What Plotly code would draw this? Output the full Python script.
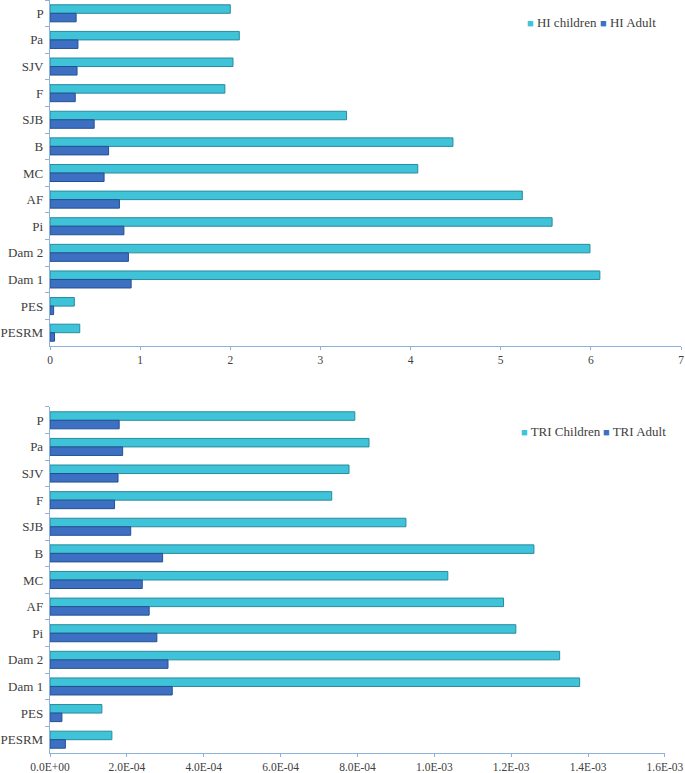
import plotly.graph_objects as go
from plotly.subplots import make_subplots

# sites, top to bottom
sites = ['P', 'Pa', 'SJV', 'F', 'SJB', 'B', 'MC', 'AF', 'Pi', 'Dam 2', 'Dam 1', 'PES', 'PESRM']

# hazard index
hi_children = [2.00, 2.10, 2.03, 1.94, 3.29, 4.47, 4.08, 5.24, 5.57, 5.99, 6.10, 0.27, 0.33]
hi_adult = [0.29, 0.31, 0.30, 0.28, 0.49, 0.65, 0.60, 0.77, 0.82, 0.87, 0.90, 0.04, 0.05]

# total risk index
tri_children = [7.93e-4, 8.30e-4, 7.78e-4, 7.33e-4, 9.26e-4, 1.259e-3, 1.035e-3,
                1.180e-3, 1.212e-3, 1.326e-3, 1.378e-3, 1.35e-4, 1.61e-4]
tri_adult = [1.80e-4, 1.89e-4, 1.77e-4, 1.68e-4, 2.10e-4, 2.93e-4, 2.40e-4,
             2.58e-4, 2.78e-4, 3.07e-4, 3.18e-4, 3.1e-5, 4.0e-5]

tri_ticks = [i * 2e-4 for i in range(9)]
tri_ticktext = ['0.0E+00', '2.0E-04', '4.0E-04', '6.0E-04', '8.0E-04',
                '1.0E-03', '1.2E-03', '1.4E-03', '1.6E-03']

CHILD = '#3EC3D8'
CHILD_EDGE = '#2A8A9E'
ADULT = '#3D70C2'
ADULT_EDGE = '#24508F'
AXIS = '#8FB0DA'
TEXT = '#404040'
FONT = 'Liberation Serif'

fig = make_subplots(rows=2, cols=1)


def add_pair(child_vals, adult_vals, child_name, adult_name, row):
    fig.add_trace(go.Bar(y=sites, x=child_vals, orientation='h', name=child_name,
                         marker=dict(color=CHILD, line=dict(color=CHILD_EDGE, width=1))),
                  row=row, col=1)
    fig.add_trace(go.Bar(y=sites, x=adult_vals, orientation='h', name=adult_name,
                         marker=dict(color=ADULT, line=dict(color=ADULT_EDGE, width=1))),
                  row=row, col=1)


add_pair(hi_children, hi_adult, 'HI children', 'HI Adult', 1)
add_pair(tri_children, tri_adult, 'TRI Children', 'TRI Adult', 2)

# compact legend keys (small square + name), placed like the original
legend_keys = [
    ('HI children', CHILD, 0.7528, 0.9695),
    ('HI Adult', ADULT, 0.8685, 0.9695),
    ('TRI Children', CHILD, 0.7433, 0.4276),
    ('TRI Adult', ADULT, 0.8732, 0.4276),
]
for name, col, lx, ly in legend_keys:
    fig.add_annotation(
        x=lx, y=ly, xref='paper', yref='paper', xanchor='left', yanchor='middle',
        text=f"<span style='color:{col};font-size:11px'>■</span> {name}",
        showarrow=False, font=dict(family=FONT, size=13, color=TEXT),
    )

fig.update_layout(
    width=685, height=773,
    margin=dict(l=50, r=4, t=0, b=20),
    paper_bgcolor='white', plot_bgcolor='white',
    barmode='group', bargap=0.36, bargroupgap=0.0,
    font=dict(family=FONT, size=13, color=TEXT),
    showlegend=False,
)

xaxis_style = dict(showgrid=False, zeroline=False, showline=True, linecolor=AXIS,
                   ticks='outside', tickcolor=AXIS, ticklen=3, automargin=False,
                   tickfont=dict(family=FONT, size=11.5, color=TEXT))
yaxis_style = dict(autorange='reversed', showgrid=False, showline=True, linecolor=AXIS,
                   ticks='outside', tickcolor=AXIS, ticklen=4, tickson='boundaries',
                   ticksuffix=' ', automargin=False,
                   tickfont=dict(family=FONT, size=13, color=TEXT))

fig.update_layout(
    xaxis=dict(domain=[0, 1], range=[0, 7], dtick=1, **xaxis_style),
    yaxis=dict(domain=[0.5405, 1], **yaxis_style),
    xaxis2=dict(domain=[0, 0.9746], range=[0, 1.6e-3], tickvals=tri_ticks,
                ticktext=tri_ticktext, **xaxis_style),
    yaxis2=dict(domain=[0, 0.4595], **yaxis_style),
)

fig.write_html("out.html", config={'displayModeBar': False},
               post_script="document.body.style.margin='0';")
